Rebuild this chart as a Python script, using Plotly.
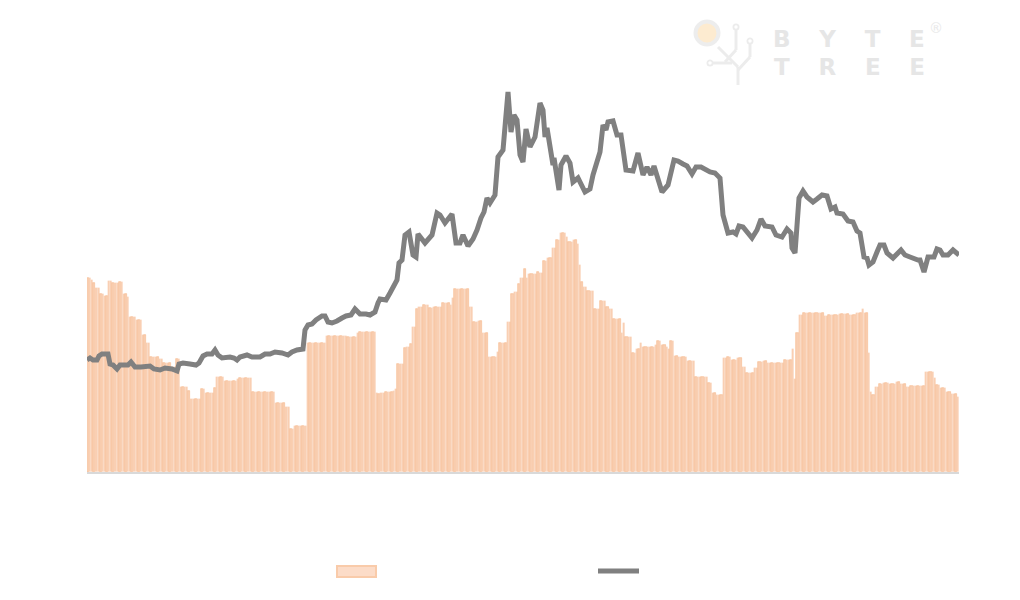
import plotly.graph_objects as go

bar_values = [
194,194,192,189,184,184,178,178,176,176,191,191,189,189,189,190,190,178,178,175,
155,155,155,152,152,152,137,137,129,129,
115,115,115,115,113,113,109,109,109,109,105,105,113,113,
85,85,85,85,81,73,73,73,73,73,83,83,79,79,79,79,84,95,95,95,95,
91,91,91,91,91,91,93,94,94,94,94,94,94,
80,80,80,80,80,80,80,80,80,80,80,69,69,69,69,69,65,65,43,43,46,46,46,46,46,46,
129,129,129,129,129,129,129,129,129,136,136,136,136,136,136,136,136,136,136,
135,135,135,135,135,139,140,140,140,140,140,140,140,140,
79,78,79,79,80,80,80,80,81,83,108,108,108,
124,125,125,128,145,145,163,165,165,167,167,167,164,164,165,165,165,165,169,169,169,169,167,174,
183,183,183,183,183,183,183,
165,165,150,150,151,151,139,139,139,115,115,115,115,120,129,129,129,129,150,150,178,180,180,188,194,194,203,194,
198,198,198,198,200,199,199,211,211,214,214,224,224,232,232,239,239,239,235,230,230,232,232,228,207,190,185,185,
181,181,181,163,163,163,171,171,171,165,163,163,153,153,153,153,139,149,135,135,135,119,119,123,123,129,
125,125,125,125,125,125,127,131,131,127,127,125,
123,131,131,116,116,115,115,115,115,111,111,111,111,95,95,95,95,95,95,89,89,79,79,77,77,77,
114,114,115,115,112,112,112,114,114,105,105,99,99,99,99,104,104,110,110,111,111,
109,109,109,109,109,109,109,109,112,112,112,112,123,93,139,157,157,
159,159,159,159,159,159,159,159,159,159,156,156,157,157,157,157,157,158,158,158,158,158,157,157,157,159,159,159,163,159,159,
119,80,77,85,85,88,88,89,89,89,88,88,88,90,90,88,88,88,85,85,
86,86,86,86,86,86,86,100,100,100,100,94,87,87,84,84,84,80,80,78,78,78,75,
]

line_days = [
0,3,6,10,12,15,21,23,26,30,33,37,41,44,48,54,63,67,73,78,
85,90,92,96,103,109,112,116,120,125,128,131,135,143,147,150,153,160,165,173,
178,183,188,195,201,205,210,216,218,221,225,229,235,238,241,245,250,255,259,264,
268,273,279,283,288,291,293,299,303,310,312,315,318,322,326,329,331,338,345,350,
353,358,365,369,373,376,381,386,390,394,397,400,403,408,411,416,421,424,427,430,
433,436,439,443,448,453,456,458,460,466,467,472,474,479,483,486,491,498,503,506,
513,516,519,521,526,530,534,539,546,551,556,560,564,567,575,581,587,591,596,600,
605,609,614,623,628,633,636,641,646,649,652,656,665,670,674,678,685,689,695,700,
704,705,708,712,716,720,726,730,735,740,744,748,750,756,761,766,770,773,777,780,
782,786,790,793,797,800,806,814,818,823,831,833,837,841,847,850,853,856,861,866,872,
]

line_values = [
112,114,112,112,116,118,118,108,107,103,107,107,107,110,105,105,106,103,102,104,
103,101,108,109,108,107,109,116,118,118,122,117,114,115,114,112,115,117,115,115,
118,118,120,119,117,120,122,123,142,147,148,152,156,156,150,149,151,154,156,157,
163,158,158,157,160,169,173,172,179,192,209,212,237,240,217,215,238,229,237,259,
257,249,258,229,229,237,226,233,242,254,260,274,269,277,315,322,380,340,357,352,
317,310,343,325,335,369,362,335,344,307,314,282,307,316,309,290,294,280,283,297,
320,347,342,350,351,337,337,302,301,319,297,305,297,306,280,287,312,311,308,306,
298,305,305,300,299,294,257,239,240,238,246,245,234,242,253,246,245,237,235,243,
239,224,219,274,281,275,270,273,277,276,263,265,259,258,251,250,241,239,215,214,
207,210,220,227,227,219,214,222,217,215,212,212,200,215,215,223,222,217,217,222,217,
]

n_bars = len(bar_values)
total_days = 872
step = total_days / n_bars
bar_days = [(i + 0.5) * step for i in range(n_bars)]
bar_edges = ["rgba(246,180,130,0.75)" if i % 3 == 0 else "rgba(249,207,179,0)" for i in range(n_bars)]

PAGE_OFFSET = 8
PX_L, PX_T, PX_W, PX_H = 87, 60, 872, 412


def fx(px):
    return (px - PX_L) / PX_W


def fy(py):
    return (PX_T + PX_H - py) / PX_H


def line_shape(x0, y0, x1, y1, color="#ECECEC", width=3):
    return dict(type="line", xref="paper", yref="paper", x0=fx(x0), x1=fx(x1), y0=fy(y0), y1=fy(y1),
                line=dict(color=color, width=width), layer="below")


def circle_shape(cx, cy, r, fill="rgba(0,0,0,0)", color="#ECECEC", width=2):
    return dict(type="circle", xref="paper", yref="paper", x0=fx(cx - r), x1=fx(cx + r),
                y0=fy(cy + r), y1=fy(cy - r), fillcolor=fill, line=dict(color=color, width=width), layer="below")


fig = go.Figure()
fig.add_trace(go.Bar(
    x=bar_days, y=bar_values, width=step, name="Volume",
    marker=dict(color="#F9CFB3", line=dict(color=bar_edges, width=0.7)),
))
fig.add_trace(go.Scatter(
    x=line_days, y=line_values, mode="lines", name="Price",
    line=dict(color="#808080", width=5, shape="linear", simplify=False),
))

shapes = [
    circle_shape(707, 33, 11.5, fill="#FDEBD0", color="#EDEDED", width=4),
    line_shape(718, 47, 738, 67), line_shape(738, 67, 738, 85),
    line_shape(738, 70, 750, 57), line_shape(750, 57, 750, 44),
    line_shape(725, 62, 736, 50), line_shape(736, 50, 736, 30),
    line_shape(713, 63, 732, 63),
    circle_shape(736, 27, 2.6, fill="#FFFFFF", width=1.8),
    circle_shape(750, 41, 2.6, fill="#FFFFFF", width=1.8),
    circle_shape(710, 63, 2.6, fill="#FFFFFF", width=1.8),
    dict(type="rect", xref="paper", yref="paper", x0=fx(337), x1=fx(376), y0=fy(577), y1=fy(566),
         fillcolor="#FCDCC8", line=dict(color="#F9CBAA", width=2)),
    dict(type="path", xref="paper", yref="paper",
         path=f"M {fx(598)} {fy(571)} L {fx(639)} {fy(571)}",
         line=dict(color="#808080", width=5)),
]

logo_gap = "\u2003\u2005"
annotations = [
    dict(text=logo_gap.join("BYTE"), x=fx(849), y=fy(39), xref="paper", yref="paper", showarrow=False,
         font=dict(family="DejaVu Sans", size=23, color="#E6E6E6", weight="bold"), xanchor="center", yanchor="middle"),
    dict(text=logo_gap.join("TREE"), x=fx(849), y=fy(67), xref="paper", yref="paper", showarrow=False,
         font=dict(family="DejaVu Sans", size=23, color="#E6E6E6", weight="bold"), xanchor="center", yanchor="middle"),
    dict(text="®", x=fx(936), y=fy(28), xref="paper", yref="paper", showarrow=False,
         font=dict(family="DejaVu Sans", size=14, color="#E9E9E9"), xanchor="center", yanchor="middle"),
]

fig.update_layout(
    width=1020 - PAGE_OFFSET, height=600 - PAGE_OFFSET,
    margin=dict(l=PX_L - PAGE_OFFSET, r=1020 - PX_L - PX_W, t=PX_T - PAGE_OFFSET, b=600 - PX_T - PX_H, pad=0),
    paper_bgcolor="#FFFFFF", plot_bgcolor="#FFFFFF", showlegend=False, bargap=0,
    shapes=shapes, annotations=annotations,
    xaxis=dict(range=[0, total_days], showgrid=False, showticklabels=False, ticks="", zeroline=False,
               showline=True, linecolor="#D9D9D9", linewidth=2),
    yaxis=dict(range=[0, PX_H], showgrid=False, showticklabels=False, ticks="", zeroline=False, showline=False),
)
fig.write_html("out.html")
